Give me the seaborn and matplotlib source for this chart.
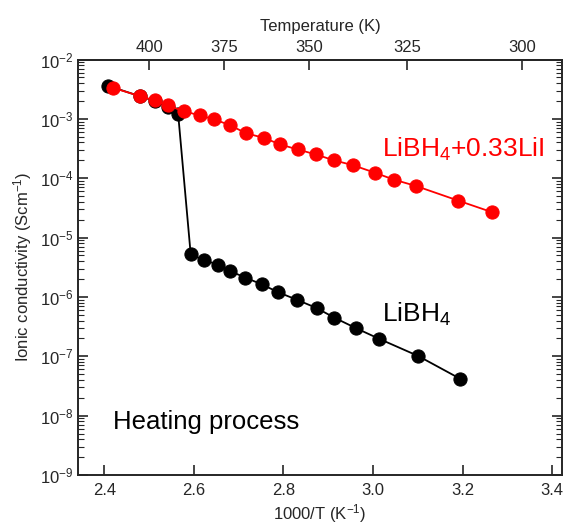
import numpy as np
import pandas as pd
import seaborn as sns
import matplotlib
matplotlib.use('Agg')
import matplotlib.pyplot as plt
from matplotlib.ticker import LogLocator, NullFormatter

# LiBH4 + 0.33LiI (red)
x_lii = [2.420, 2.480, 2.513, 2.542, 2.577, 2.614, 2.646, 2.681, 2.717, 2.756,
         2.793, 2.832, 2.872, 2.913, 2.955, 3.004, 3.046, 3.096, 3.190, 3.265]
s_lii = [3.33e-3, 2.41e-3, 2.04e-3, 1.68e-3, 1.35e-3, 1.14e-3, 9.8e-4, 7.8e-4, 5.7e-4, 4.8e-4,
         3.7e-4, 3.05e-4, 2.52e-4, 2.0e-4, 1.66e-4, 1.24e-4, 9.5e-5, 7.4e-5, 4.2e-5, 2.69e-5]

# pure LiBH4 (black)
x_bh4 = [2.409, 2.480, 2.513, 2.542, 2.565, 2.593, 2.622, 2.653, 2.681, 2.715,
         2.752, 2.787, 2.831, 2.874, 2.913, 2.961, 3.013, 3.101, 3.194]
s_bh4 = [3.6e-3, 2.4e-3, 2.0e-3, 1.6e-3, 1.2e-3, 5.2e-6, 4.2e-6, 3.5e-6, 2.73e-6, 2.11e-6,
         1.63e-6, 1.21e-6, 8.9e-7, 6.5e-7, 4.5e-7, 3.0e-7, 1.98e-7, 1.01e-7, 4.2e-8]

temp_ticks = [400, 375, 350, 325, 300]

sns.set_theme(style='ticks')
plt.rcParams['font.family'] = ['Liberation Sans', 'DejaVu Sans']
plt.rcParams['mathtext.fontset'] = 'custom'
plt.rcParams['mathtext.rm'] = 'Liberation Sans'
plt.rcParams['mathtext.it'] = 'Liberation Sans'
plt.rcParams['mathtext.default'] = 'regular'

df_lii = pd.DataFrame({'x': x_lii, 's': s_lii})
df_bh4 = pd.DataFrame({'x': x_bh4, 's': s_bh4})

fig = plt.figure(figsize=(5.64, 5.30), dpi=100)
ax = fig.add_axes([0.1388, 0.1038, 0.8577, 0.7839])

sns.lineplot(data=df_bh4, x='x', y='s', color='black', marker='o', markersize=9.5,
             markeredgecolor='black', linewidth=1.3, sort=False, ax=ax)
sns.lineplot(data=df_lii, x='x', y='s', color='#ff0000', marker='o', markersize=9.5,
             markeredgecolor='#ff0000', linewidth=1.3, sort=False, ax=ax)

ax.set_yscale('log')
ax.set_xlim(2.342, 3.422)
ax.set_ylim(1e-9, 1e-2)
ax.set_xticks([2.4, 2.6, 2.8, 3.0, 3.2, 3.4])
ax.set_xticklabels(['2.4', '2.6', '2.8', '3.0', '3.2', '3.4'])
ax.yaxis.set_major_locator(LogLocator(base=10, numticks=10))
ax.yaxis.set_minor_locator(LogLocator(base=10, subs=np.arange(2, 10), numticks=20))
ax.yaxis.set_minor_formatter(NullFormatter())

ax.tick_params(axis='both', which='major', direction='in', length=7, width=1.2,
               labelsize=12, right=True)
ax.tick_params(axis='y', which='minor', direction='in', length=4, width=0.8, right=True)
ax.tick_params(axis='x', which='major', top=False, pad=6)
for sp in ax.spines.values():
    sp.set_linewidth(1.4)
    sp.set_visible(True)

ax.set_xlabel('1000/T (K$^{-1}$)', fontsize=12, labelpad=3)
ax.set_ylabel('Ionic conductivity (Scm$^{-1}$)', fontsize=12, labelpad=4)

sec = ax.secondary_xaxis('top', functions=(lambda v: 1000 / v, lambda v: 1000 / v))
sec.set_xticks(temp_ticks)
sec.set_xticklabels([str(t) for t in temp_ticks])
sec.tick_params(direction='in', length=7, width=1.2, labelsize=12)
sec.set_xlabel('Temperature (K)', fontsize=12, labelpad=6)
sec.spines['top'].set_linewidth(1.4)

ax.text(3.019, 3.05e-4, 'LiBH$_4$+0.33LiI', color='#ff0000', fontsize=19, va='center', ha='left')
ax.text(3.019, 5.1e-7, 'LiBH$_4$', color='black', fontsize=19, va='center', ha='left')
ax.text(2.420, 7.7e-9, 'Heating process', color='black', fontsize=18.5, va='center', ha='left')

fig.savefig('out.png', dpi=100)
